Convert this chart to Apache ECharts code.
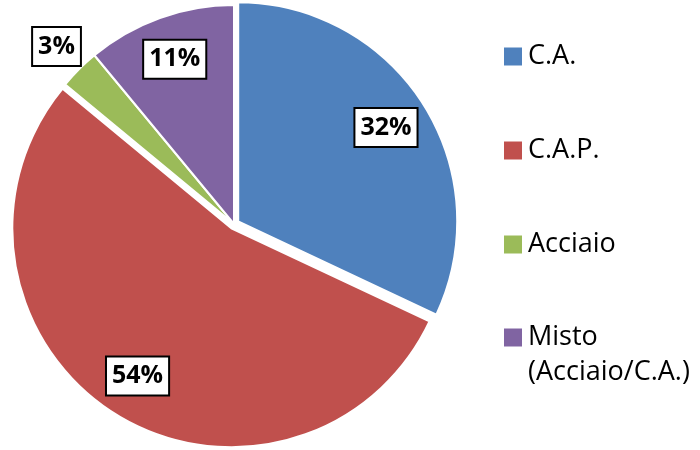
<!DOCTYPE html>
<html>
<head>
<meta charset="utf-8">
<script src="https://cdn.jsdelivr.net/npm/echarts@6/dist/echarts.min.js"></script>
<style>
  html, body { margin: 0; padding: 0; background: #fff; }
  #chart { width: 700px; height: 450px; }
</style>
</head>
<body>
<div id="chart"></div>
<script>
// dati
var categorie = ['C.A.', 'C.A.P.', 'Acciaio', 'Misto (Acciaio/C.A.)'];
var percentuali = [32, 54, 3, 11];
var colori = ['#4F81BD', '#C0504D', '#9BBB59', '#8064A2'];
var esplose = ['C.A.', 'C.A.P.'];   // fette staccate
var etichetteFuori = ['Acciaio'];  // etichetta fuori dalla torta

var centro = [234, 224];
var raggio = 219;
var font = '"Open Sans", "Liberation Sans", sans-serif';

var myChart = echarts.init(document.getElementById('chart'));

function dati(stileVuoto, quali) {
  return categorie.map(function (nome, i) {
    var item = {
      name: nome,
      value: percentuali[i],
      selected: esplose.indexOf(nome) >= 0
    };
    if (stileVuoto) {
      item.itemStyle = { color: 'transparent', borderWidth: 0 };
      item.label = { show: quali(nome) };
    } else {
      item.itemStyle = { color: colori[i] };
    }
    return item;
  });
}

var stileEtichetta = {
  position: 'inside',
  formatter: '{c}%',
  color: '#000',
  fontFamily: font,
  fontWeight: 'bold',
  fontSize: 25,
  lineHeight: 26,
  backgroundColor: '#fff',
  borderColor: '#000',
  borderWidth: 2,
  padding: [6, 5, 5, 5]
};

var base = {
  type: 'pie',
  center: centro,
  startAngle: 90,
  clockwise: true,
  selectedMode: 'multiple',
  selectedOffset: 5,
  avoidLabelOverlap: false,
  animation: false,
  labelLine: { show: false },
  emphasis: { disabled: true }
};

var option = {
  backgroundColor: '#fff',
  legend: [
    {
      orient: 'vertical',
      left: 497,
      top: 34,
      itemWidth: 20,
      itemHeight: 20,
      itemGap: 59,
      icon: 'rect',
      selectedMode: false,
      data: categorie.slice(0, 3),
      textStyle: { fontFamily: font, fontSize: 27, color: '#000', lineHeight: 35 }
    },
    {
      orient: 'vertical',
      left: 497,
      top: 280,
      itemWidth: 20,
      itemHeight: 20,
      icon: 'rect',
      selectedMode: false,
      data: categorie.slice(3),
      // riga vuota in testa così il quadratino resta allineato a "Misto"
      formatter: function (name) { return '\n' + name.replace(' ', '\n'); },
      textStyle: { fontFamily: font, fontSize: 27, color: '#000', lineHeight: 35 }
    }
  ],
  series: [
    Object.assign({}, base, {
      radius: raggio,
      itemStyle: { borderColor: '#fff', borderWidth: 2 },
      label: { show: false },
      data: dati(false)
    }),
    // serie invisibile solo per le etichette interne
    Object.assign({}, base, {
      radius: [132, 212],
      silent: true,
      label: stileEtichetta,
      data: dati(true, function (n) { return etichetteFuori.indexOf(n) < 0; })
    }),
    // serie invisibile per l'etichetta esterna
    Object.assign({}, base, {
      radius: [210, 286],
      silent: true,
      label: stileEtichetta,
      data: dati(true, function (n) { return etichetteFuori.indexOf(n) >= 0; })
    })
  ]
};

myChart.setOption(option);
</script>
</body>
</html>
